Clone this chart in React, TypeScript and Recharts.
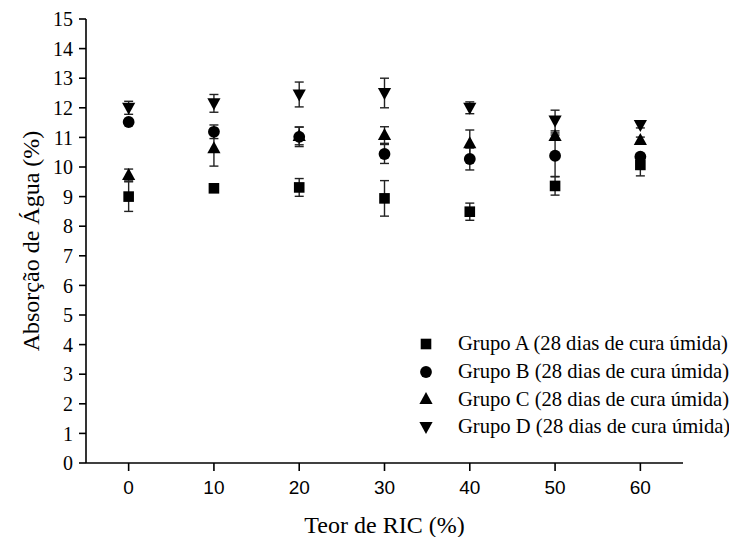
import React from 'react';
import { ScatterChart, Scatter, XAxis, YAxis, ErrorBar, Legend } from 'recharts';

const teor = [0, 10, 20, 30, 40, 50, 60];
const yTicks = [0, 1, 2, 3, 4, 5, 6, 7, 8, 9, 10, 11, 12, 13, 14, 15];

const grupoA = [9.0, 9.28, 9.31, 8.94, 8.49, 9.36, 10.07];
const erroA = [0.5, 0.06, 0.3, 0.6, 0.29, 0.31, 0.37];
const grupoB = [11.52, 11.19, 11.02, 10.44, 10.27, 10.38, 10.35];
const erroB = [0.08, 0.23, 0.33, 0.32, 0.37, 0.7, 0.1];
const grupoC = [9.73, 10.63, 11.05, 11.08, 10.8, 11.05, 10.91];
const erroC = [0.2, 0.6, 0.3, 0.28, 0.45, 0.1, 0.1];
const grupoD = [12.0, 12.15, 12.45, 12.5, 12.0, 11.57, 11.42];
const erroD = [0.22, 0.3, 0.42, 0.5, 0.2, 0.35, 0.1];

const nomes = [
  'Grupo A (28 dias de cura úmida)',
  'Grupo B (28 dias de cura úmida)',
  'Grupo C (28 dias de cura úmida)',
  'Grupo D (28 dias de cura úmida)',
];

const build = (vals: number[], errs: number[]) =>
  teor.map((x, i) => ({ x, y: vals[i], e: errs[i] }));

const Square = (p: any) => (
  <rect x={p.cx - 5.3} y={p.cy - 5.3} width={10.6} height={10.6} fill="#000" />
);
const Circle = (p: any) => <circle cx={p.cx} cy={p.cy} r={5.9} fill="#000" />;
const TriUp = (p: any) => (
  <polygon
    points={`${p.cx},${p.cy - 7} ${p.cx - 6.6},${p.cy + 5} ${p.cx + 6.6},${p.cy + 5}`}
    fill="#000"
  />
);
const TriDown = (p: any) => (
  <polygon
    points={`${p.cx},${p.cy + 7} ${p.cx - 6.6},${p.cy - 5} ${p.cx + 6.6},${p.cy - 5}`}
    fill="#000"
  />
);

const shapes = [Square, Circle, TriUp, TriDown];
const series = [
  build(grupoA, erroA),
  build(grupoB, erroB),
  build(grupoC, erroC),
  build(grupoD, erroD),
];

const serif = '"Liberation Serif", "Times New Roman", serif';
const sans = '"Liberation Sans", Arial, sans-serif';

const LegendContent = () => (
  <div style={{ fontFamily: serif, fontSize: 20.6, color: '#000' }}>
    {nomes.map((n, i) => {
      const S = shapes[i];
      return (
        <div key={n} style={{ display: 'flex', alignItems: 'center', height: 27.7 }}>
          <svg width={16} height={16} style={{ marginRight: 24 }}>
            <S cx={8} cy={8} />
          </svg>
          <span style={{ whiteSpace: 'nowrap' }}>{n}</span>
        </div>
      );
    })}
  </div>
);

const YTitle = (props: any) => {
  const vb = props.viewBox;
  const cx = vb.x + 23;
  const cy = vb.y + vb.height / 2;
  return (
    <text
      x={cx}
      y={cy}
      transform={`rotate(-90 ${cx} ${cy})`}
      textAnchor="middle"
      dominantBaseline="central"
      fontFamily={serif}
      fontSize={24}
      fill="#000"
    >
      Absorção de Água (%)
    </text>
  );
};

const XTitle = (props: any) => {
  const vb = props.viewBox;
  return (
    <text
      x={vb.x + vb.width / 2}
      y={vb.y + vb.height - 4}
      textAnchor="middle"
      fontFamily={serif}
      fontSize={24}
      fill="#000"
    >
      Teor de RIC (%)
    </text>
  );
};

export default function App() {
  return (
    <ScatterChart
      width={729}
      height={529}
      margin={{ top: 11, right: 54, bottom: 0, left: 0 }}
    >
      <XAxis
        type="number"
        dataKey="x"
        domain={[-5, 65]}
        ticks={teor}
        allowDataOverflow
        height={74}
        tickSize={8}
        tickMargin={10}
        axisLine={{ stroke: '#000', strokeWidth: 1.6 }}
        tickLine={{ stroke: '#000', strokeWidth: 1.6 }}
        tick={{ fill: '#000', fontFamily: sans, fontSize: 19 }}
        label={<XTitle />}
      />
      <YAxis
        type="number"
        dataKey="y"
        domain={[0, 15]}
        ticks={yTicks}
        interval={0}
        allowDataOverflow
        width={78}
        tickSize={7}
        tickMargin={6}
        axisLine={{ stroke: '#000', strokeWidth: 1.6 }}
        tickLine={{ stroke: '#000', strokeWidth: 1.6 }}
        tick={{ fill: '#000', fontFamily: serif, fontSize: 20 }}
        label={<YTitle />}
      />
      <Legend
        layout="vertical"
        align="center"
        verticalAlign="middle"
        content={<LegendContent />}
        wrapperStyle={{ position: 'absolute', left: 410, top: 322, width: 318 }}
      />
      {series.map((d, i) => (
        <Scatter
          key={nomes[i]}
          name={nomes[i]}
          data={d}
          shape={shapes[i]}
          fill="#000"
          isAnimationActive={false}
        >
          <ErrorBar
            dataKey="e"
            direction="y"
            width={4.5}
            stroke="#222"
            strokeWidth={1.4}
          />
        </Scatter>
      ))}
    </ScatterChart>
  );
}
